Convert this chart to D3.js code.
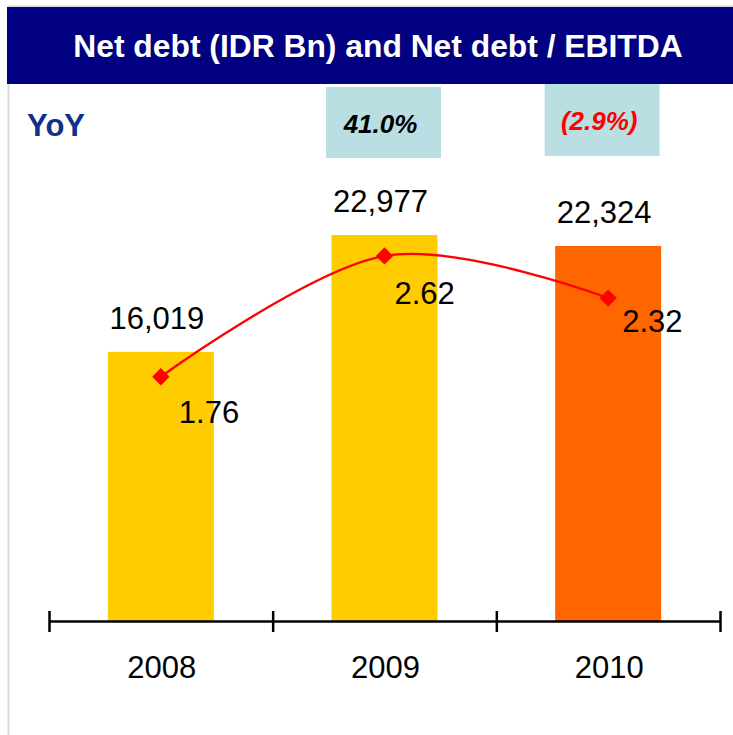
<!DOCTYPE html>
<html>
<head>
<meta charset="utf-8">
<script src="https://cdn.jsdelivr.net/npm/d3@7"></script>
<style>
  html, body { margin: 0; padding: 0; background: #fff; }
  svg { display: block; font-family: "Liberation Sans", Arial, sans-serif; }
</style>
</head>
<body>
<svg id="chart" width="733" height="735"></svg>
<script>
// Net debt bars (IDR Bn) with Net debt / EBITDA line on a second scale.

const years = ["2008", "2009", "2010"];
const netDebt = [16019, 22977, 22324];
const debtToEbitda = [1.76, 2.62, 2.32];
const yoyLabels = ["", "41.0%", "(2.9%)"];
const yoyNegative = [false, false, true];
const barColors = ["#FFCC00", "#FFCC00", "#FF6600"];

// hand-placed labels, like the dragged labels in the original
const ratioLabelNudge = [[18, 46], [10, 48], [14, 34]];
const yoyBoxShift = [0, -1, -6];

const svg = d3.select("#chart");

// frame + title band
svg.append("rect")
  .attr("x", 8.5).attr("y", 6.5)
  .attr("width", 760).attr("height", 760)
  .attr("fill", "none")
  .attr("stroke", "#d9d9d9")
  .attr("stroke-width", 2);

svg.append("rect")
  .attr("x", 7).attr("y", 7)
  .attr("width", 726).attr("height", 77)
  .attr("fill", "#000080");

svg.append("text")
  .attr("x", 378).attr("y", 57)
  .attr("text-anchor", "middle")
  .attr("fill", "#fff")
  .attr("font-size", 31.8)
  .attr("font-weight", "bold")
  .text("Net debt (IDR Bn) and Net debt / EBITDA");

svg.append("text")
  .attr("x", 27).attr("y", 136)
  .attr("fill", "#10308A")
  .attr("font-size", 31)
  .attr("font-weight", "bold")
  .text("YoY");

// scales
const x = d3.scaleBand().domain(years).range([49, 720]).paddingInner(0.526).paddingOuter(0.263);
const y = d3.scaleLinear().domain([0, 25000]).range([621, 201]);
const y2 = d3.scaleLinear().domain([0, 3]).range([624, 202.5]);
const cx = d => x(d) + x.bandwidth() / 2;

// YoY boxes
const yoy = svg.append("g");
years.forEach((yr, i) => {
  if (!yoyLabels[i]) return;
  const bx = cx(yr) + yoyBoxShift[i];
  yoy.append("rect")
    .attr("x", bx - 57.5).attr("y", i === 1 ? 87 : 84)
    .attr("width", 115).attr("height", i === 1 ? 71 : 72)
    .attr("fill", "#B9DFE3");
  yoy.append("text")
    .attr("x", bx - 3).attr("y", i === 1 ? 133 : 130)
    .attr("text-anchor", "middle")
    .attr("font-size", 26)
    .attr("font-weight", "bold")
    .attr("font-style", "italic")
    .attr("fill", yoyNegative[i] ? "#FF0000" : "#000")
    .text(yoyLabels[i]);
});

// bars
svg.append("g").selectAll("rect")
  .data(years)
  .join("rect")
  .attr("x", d => x(d))
  .attr("y", (d, i) => y(netDebt[i]))
  .attr("width", x.bandwidth())
  .attr("height", (d, i) => y(0) - y(netDebt[i]))
  .attr("fill", (d, i) => barColors[i]);

svg.append("g").selectAll("text")
  .data(years)
  .join("text")
  .attr("x", d => cx(d) - 4)
  .attr("y", (d, i) => y(netDebt[i]) - 23)
  .attr("text-anchor", "middle")
  .attr("font-size", 31)
  .attr("fill", "#000")
  .text((d, i) => d3.format(",")(netDebt[i]));

// x axis: line with ticks between categories
const xAxis = d3.axisBottom(d3.scaleLinear().domain([0, 3]).range([49, 720]))
  .tickValues([0, 1, 2, 3])
  .tickSize(10)
  .tickSizeOuter(0)
  .tickFormat("");

const axisG = svg.append("g")
  .attr("transform", "translate(0,621)")
  .call(xAxis);
axisG.select(".domain").attr("stroke", "#000").attr("stroke-width", 2.5);
axisG.selectAll(".tick line")
  .attr("y1", -10).attr("y2", 11)
  .attr("stroke", "#000").attr("stroke-width", 2.5);

svg.append("g").selectAll("text")
  .data(years)
  .join("text")
  .attr("x", d => cx(d) + 1)
  .attr("y", 678)
  .attr("text-anchor", "middle")
  .attr("font-size", 31)
  .attr("fill", "#000")
  .text(d => d);

// ratio line
const line = d3.line()
  .x((d, i) => cx(years[i]))
  .y(d => y2(d))
  .curve(d3.curveCardinal.tension(0));

svg.append("path")
  .datum(debtToEbitda)
  .attr("fill", "none")
  .attr("stroke", "#FF0000")
  .attr("stroke-width", 2.3)
  .attr("d", line);

svg.append("g").selectAll("path")
  .data(debtToEbitda)
  .join("path")
  .attr("transform", (d, i) => `translate(${cx(years[i])},${y2(d)}) rotate(45)`)
  .attr("d", d3.symbol(d3.symbolSquare, 150))
  .attr("fill", "#FF0000");

svg.append("g").selectAll("text")
  .data(debtToEbitda)
  .join("text")
  .attr("x", (d, i) => cx(years[i]) + ratioLabelNudge[i][0])
  .attr("y", (d, i) => y2(d) + ratioLabelNudge[i][1])
  .attr("font-size", 31)
  .attr("fill", "#000")
  .text(d => d.toFixed(2));
</script>
</body>
</html>
